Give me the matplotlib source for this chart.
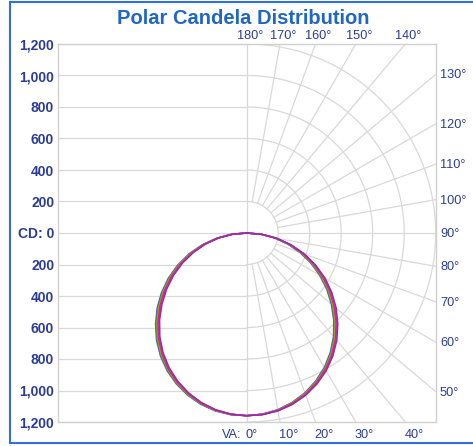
import numpy as np
import matplotlib
matplotlib.use("Agg")
import matplotlib.pyplot as plt
from matplotlib.lines import Line2D

# ---- data -------------------------------------------------------------
va_angles = [0, 5, 10, 15, 20, 25, 30, 35, 40, 45, 50, 55, 60, 65, 70, 75, 80, 85, 90]

purple_right = [1160, 1158, 1147, 1126, 1096, 1057, 1010, 954, 890, 818, 742, 660, 575, 484, 391, 294, 196, 98, 0]
purple_left = [1160, 1154, 1139, 1114, 1080, 1037, 986, 926, 858, 782, 702, 620, 535, 448, 359, 270, 180, 90, 0]
magenta_right = [1160, 1157, 1145, 1124, 1093, 1053, 1005, 948, 884, 811, 734, 652, 567, 477, 385, 289, 193, 96, 0]
magenta_left = [1160, 1155, 1141, 1116, 1083, 1041, 991, 932, 864, 789, 710, 628, 543, 455, 365, 275, 183, 92, 0]
red_right = [1160, 1156, 1144, 1121, 1090, 1049, 1000, 943, 877, 804, 726, 644, 559, 470, 378, 284, 190, 95, 0]
red_left = [1160, 1156, 1142, 1119, 1086, 1045, 996, 937, 871, 796, 718, 636, 551, 462, 372, 280, 186, 93, 0]
olive_right = [1160, 1156, 1142, 1119, 1086, 1045, 996, 937, 871, 796, 718, 636, 551, 462, 372, 280, 186, 93, 0]
olive_left = [1160, 1156, 1144, 1121, 1090, 1049, 1000, 943, 877, 804, 726, 644, 559, 470, 378, 284, 190, 95, 0]
green_right = [1160, 1155, 1141, 1116, 1083, 1041, 991, 932, 864, 789, 710, 628, 543, 455, 365, 275, 183, 92, 0]
green_left = [1160, 1157, 1145, 1124, 1093, 1053, 1005, 948, 884, 811, 734, 652, 567, 477, 385, 289, 193, 96, 0]
blue_right = [1160, 1154, 1139, 1114, 1080, 1037, 986, 926, 858, 782, 702, 620, 535, 448, 359, 270, 180, 90, 0]
blue_left = [1160, 1158, 1147, 1126, 1096, 1057, 1010, 954, 890, 818, 742, 660, 575, 484, 391, 294, 196, 98, 0]

cd_ticks = [1200, 1000, 800, 600, 400, 200, 0, -200, -400, -600, -800, -1000, -1200]
cd_labels = ["1,200", "1,000", "800", "600", "400", "200", "CD: 0",
             "200", "400", "600", "800", "1,000", "1,200"]
grid_radii = [200, 400, 600, 800, 1000, 1200]
radial_angles = [10, 20, 30, 40, 50, 60, 70, 80, 90, 100, 110, 120, 130, 140, 150, 160, 170]
bottom_label_angles = [10, 20, 30, 40]
right_label_angles = [50, 60, 70, 80, 90, 100, 110, 120, 130]
top_label_angles = [140, 150, 160, 170, 180]

title = "Polar Candela Distribution"

# ---- styling ----------------------------------------------------------
W, H = 473, 446
GRID = "#d9d9d9"
LBL = "#2b3c98"
PX = 0.72  # points per pixel at dpi 100

fig = plt.figure(figsize=(W / 100, H / 100), dpi=100)
fig.patch.set_facecolor("white")

ax_l, ax_r, ax_t, ax_b = 58.3, 436.0, 44.0, 422.0
ax = fig.add_axes([ax_l / W, 1 - ax_b / H, (ax_r - ax_l) / W, (ax_b - ax_t) / H])
XMIN, XMAX, YMIN, YMAX = -1196, 1202, -1200, 1200
ax.set_xlim(XMIN, XMAX)
ax.set_ylim(YMIN, YMAX)

for s in ax.spines.values():
    s.set_color("#d0d0d0")
    s.set_linewidth(1.0)

ax.set_xticks([])
ax.set_yticks(cd_ticks)
ax.set_yticklabels(cd_labels)
ax.tick_params(axis="y", length=0, pad=3)
for t in ax.get_yticklabels():
    t.set_fontfamily("Liberation Sans")
    t.set_fontweight("bold")
    t.set_fontsize(10)
    t.set_color(LBL)

# left-half horizontal grid
for y in cd_ticks:
    ax.plot([XMIN, 0], [y, y], color=GRID, lw=0.9, zorder=1)
ax.axvline(0, color=GRID, lw=0.9, zorder=1)

# right-half polar arcs
t = np.radians(np.arange(0, 181, 1))
for r in grid_radii:
    ax.plot(r * np.sin(t), -r * np.cos(t), color=GRID, lw=0.9, zorder=1)

# radial lines
for a in radial_angles:
    ar = np.radians(a)
    ax.plot([200 * np.sin(ar), 3000 * np.sin(ar)], [-200 * np.cos(ar), -3000 * np.cos(ar)],
            color=GRID, lw=0.9, zorder=1)

# curves
th = np.radians(va_angles)
curves = [
    (blue_left, blue_right, "#3f63d0"),
    (green_left, green_right, "#3c9f3c"),
    (olive_left, olive_right, "#b0a020"),
    (red_left, red_right, "#e0302c"),
    (magenta_left, magenta_right, "#e020c0"),
    (purple_left, purple_right, "#9030b0"),
]
for left, right, col in curves:
    L = np.array(left, float)
    R = np.array(right, float)
    xs = np.concatenate([(-L * np.sin(th))[::-1], R * np.sin(th)])
    ys = np.concatenate([(-L * np.cos(th))[::-1], -R * np.cos(th)])
    ax.plot(xs, ys, color=col, lw=1.1, zorder=3, solid_joinstyle="round")

# angle labels
afont = dict(family="Liberation Sans", fontsize=9.2, color=LBL)
ax.annotate("0°", (0, YMIN), xytext=(-1 * PX, -13 * PX), textcoords="offset points",
            ha="left", va="center", annotation_clip=False, **afont)
ax.annotate("VA:", (0, YMIN), xytext=(-5 * PX, -13 * PX), textcoords="offset points",
            ha="right", va="center", annotation_clip=False, **afont)
for a in bottom_label_angles:
    ex = -YMIN * np.tan(np.radians(a))
    ax.annotate(f"{a}°", (ex, YMIN), xytext=(-1 * PX, -13 * PX), textcoords="offset points",
                ha="left", va="center", annotation_clip=False, **afont)
for a in right_label_angles:
    ey = -XMAX / np.tan(np.radians(a)) if a != 90 else 0.0
    ax.annotate(f"{a}°", (XMAX, ey), xytext=(4 * PX, -1 * PX), textcoords="offset points",
                ha="left", va="center", annotation_clip=False, **afont)
for a in top_label_angles:
    ex = YMAX * np.tan(np.radians(180 - a))
    ax.annotate(f"{a}°", (ex, YMAX), xytext=(-10 * PX, 8 * PX), textcoords="offset points",
                ha="left", va="center", annotation_clip=False, **afont)

# title
fig.text(243.5 / W, 1 - 24.0 / H, title, ha="center", va="baseline",
         family="Liberation Sans", fontweight="bold", fontsize=14.5, color="#1f66c8")

# blue outer border
bc = "#2f6fe0"
bx0, by0, by1 = 10 / W, 1 - 442.5 / H, 1 - 2 / H
fig.add_artist(Line2D([bx0, bx0], [by0, by1], transform=fig.transFigure, color=bc, lw=1.5))
fig.add_artist(Line2D([bx0, 1.0], [by1, by1], transform=fig.transFigure, color=bc, lw=1.5))
fig.add_artist(Line2D([bx0, 1.0], [by0, by0], transform=fig.transFigure, color=bc, lw=1.5))

fig.savefig("out.png", dpi=100)
